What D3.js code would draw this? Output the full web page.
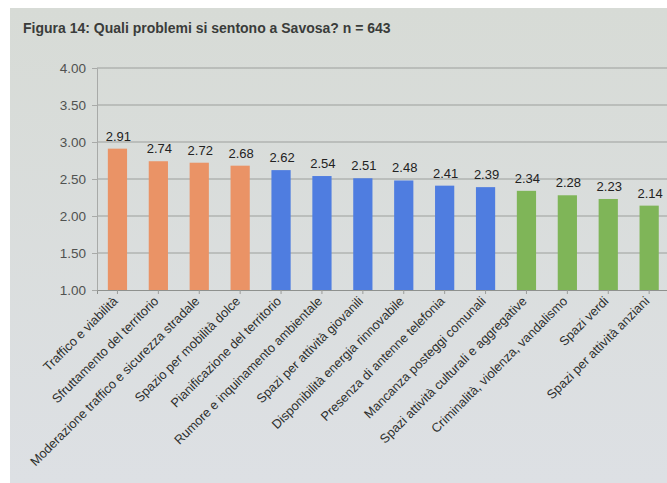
<!DOCTYPE html>
<html><head><meta charset="utf-8">
<script src="https://cdn.jsdelivr.net/npm/d3@7"></script>
<style>body{margin:0;background:#fff;} svg{display:block;}</style>
</head><body>
<svg id="c" width="667" height="483"></svg>
<script>
const categories = ["Traffico e viabilità","Sfruttamento del territorio","Moderazione traffico e sicurezza stradale","Spazio per mobilità dolce","Pianificazione del territorio","Rumore e inquinamento ambientale","Spazi per attività giovanili","Disponibilità energia rinnovabile","Presenza di antenne telefonia","Mancanza posteggi comunali","Spazi attività culturali e aggregative","Criminalità, violenza, vandalismo","Spazi verdi","Spazi per attività anziani"];
const values = [2.91,2.74,2.72,2.68,2.62,2.54,2.51,2.48,2.41,2.39,2.34,2.28,2.23,2.14];
const groups = ["A","A","A","A","B","B","B","B","B","B","C","C","C","C"];
const yTicks = [1.00,1.50,2.00,2.50,3.00,3.50,4.00];
const title = "Figura 14: Quali problemi si sentono a Savosa? n = 643";

const colors = {A:"#ea9366", B:"#4f7de0", C:"#7fb558"};
const svg = d3.select("#c");
const defs = svg.append("defs");
const g0 = defs.append("linearGradient").attr("id","bg").attr("x1",0).attr("y1",0).attr("x2",0).attr("y2",1);
g0.append("stop").attr("offset","0%").attr("stop-color","#d7dbd6");
g0.append("stop").attr("offset","100%").attr("stop-color","#dde0e4");
svg.append("rect").attr("x",10).attr("y",8).attr("width",657).attr("height",475).attr("fill","url(#bg)");

const x = d3.scaleBand().domain(categories).range([97, 97+14*40.9]).paddingInner(0.53).paddingOuter(0.265);
const y = d3.scaleLinear().domain([1,4]).range([290,68]);

// gridlines
svg.append("g").selectAll("line").data(yTicks.slice(1)).join("line")
  .attr("x1",97).attr("x2",667).attr("y1",d=>y(d)).attr("y2",d=>y(d))
  .attr("stroke","#9c9f9c").attr("stroke-width",1);

// y axis
const ya = svg.append("g").attr("transform","translate(97,0)")
  .call(d3.axisLeft(y).tickValues(yTicks).tickFormat(d3.format(".2f")).tickSize(5).tickPadding(6));
ya.select(".domain").attr("stroke","#a8aaa8");
ya.selectAll(".tick line").attr("stroke","#a8aaa8");
ya.selectAll("text").attr("fill","#505250").style("font-family","Liberation Sans, Arial, sans-serif").style("font-size","13.5px");

// bars
svg.append("g").selectAll("rect").data(values).join("rect")
  .attr("x",(d,i)=>x(categories[i])).attr("width",x.bandwidth())
  .attr("y",d=>y(d)).attr("height",d=>y(1)-y(d))
  .attr("fill",(d,i)=>colors[groups[i]]);

// x axis
const xa = svg.append("g").attr("transform","translate(0,290)")
  .call(d3.axisBottom(x).tickSize(4).tickFormat(""));
xa.select(".domain").attr("stroke","#8e918e");
xa.selectAll(".tick line").attr("stroke","#9a9c9a");

// category labels
svg.append("g").selectAll("text").data(categories).join("text")
  .attr("transform",d=>`translate(${x(d)+x.bandwidth()/2+1},${302}) rotate(-45)`)
  .attr("text-anchor","end")
  .attr("fill","#2e302e")
  .style("font-family","Liberation Sans, Arial, sans-serif").style("font-size","12.8px")
  .text(d=>d);

// value labels
svg.append("g").selectAll("text").data(values).join("text")
  .attr("x",(d,i)=>x(categories[i])+x.bandwidth()/2+1).attr("y",d=>y(d)-8)
  .attr("text-anchor","middle").attr("fill","#222")
  .style("font-family","Liberation Sans, Arial, sans-serif").style("font-size","13px")
  .text(d=>d.toFixed(2));

svg.append("text").attr("x",23).attr("y",33).attr("fill","#3a3c3a")
  .style("font-family","Liberation Sans, Arial, sans-serif").style("font-size","14px").style("font-weight","bold")
  .text(title);
</script>
</body></html>
